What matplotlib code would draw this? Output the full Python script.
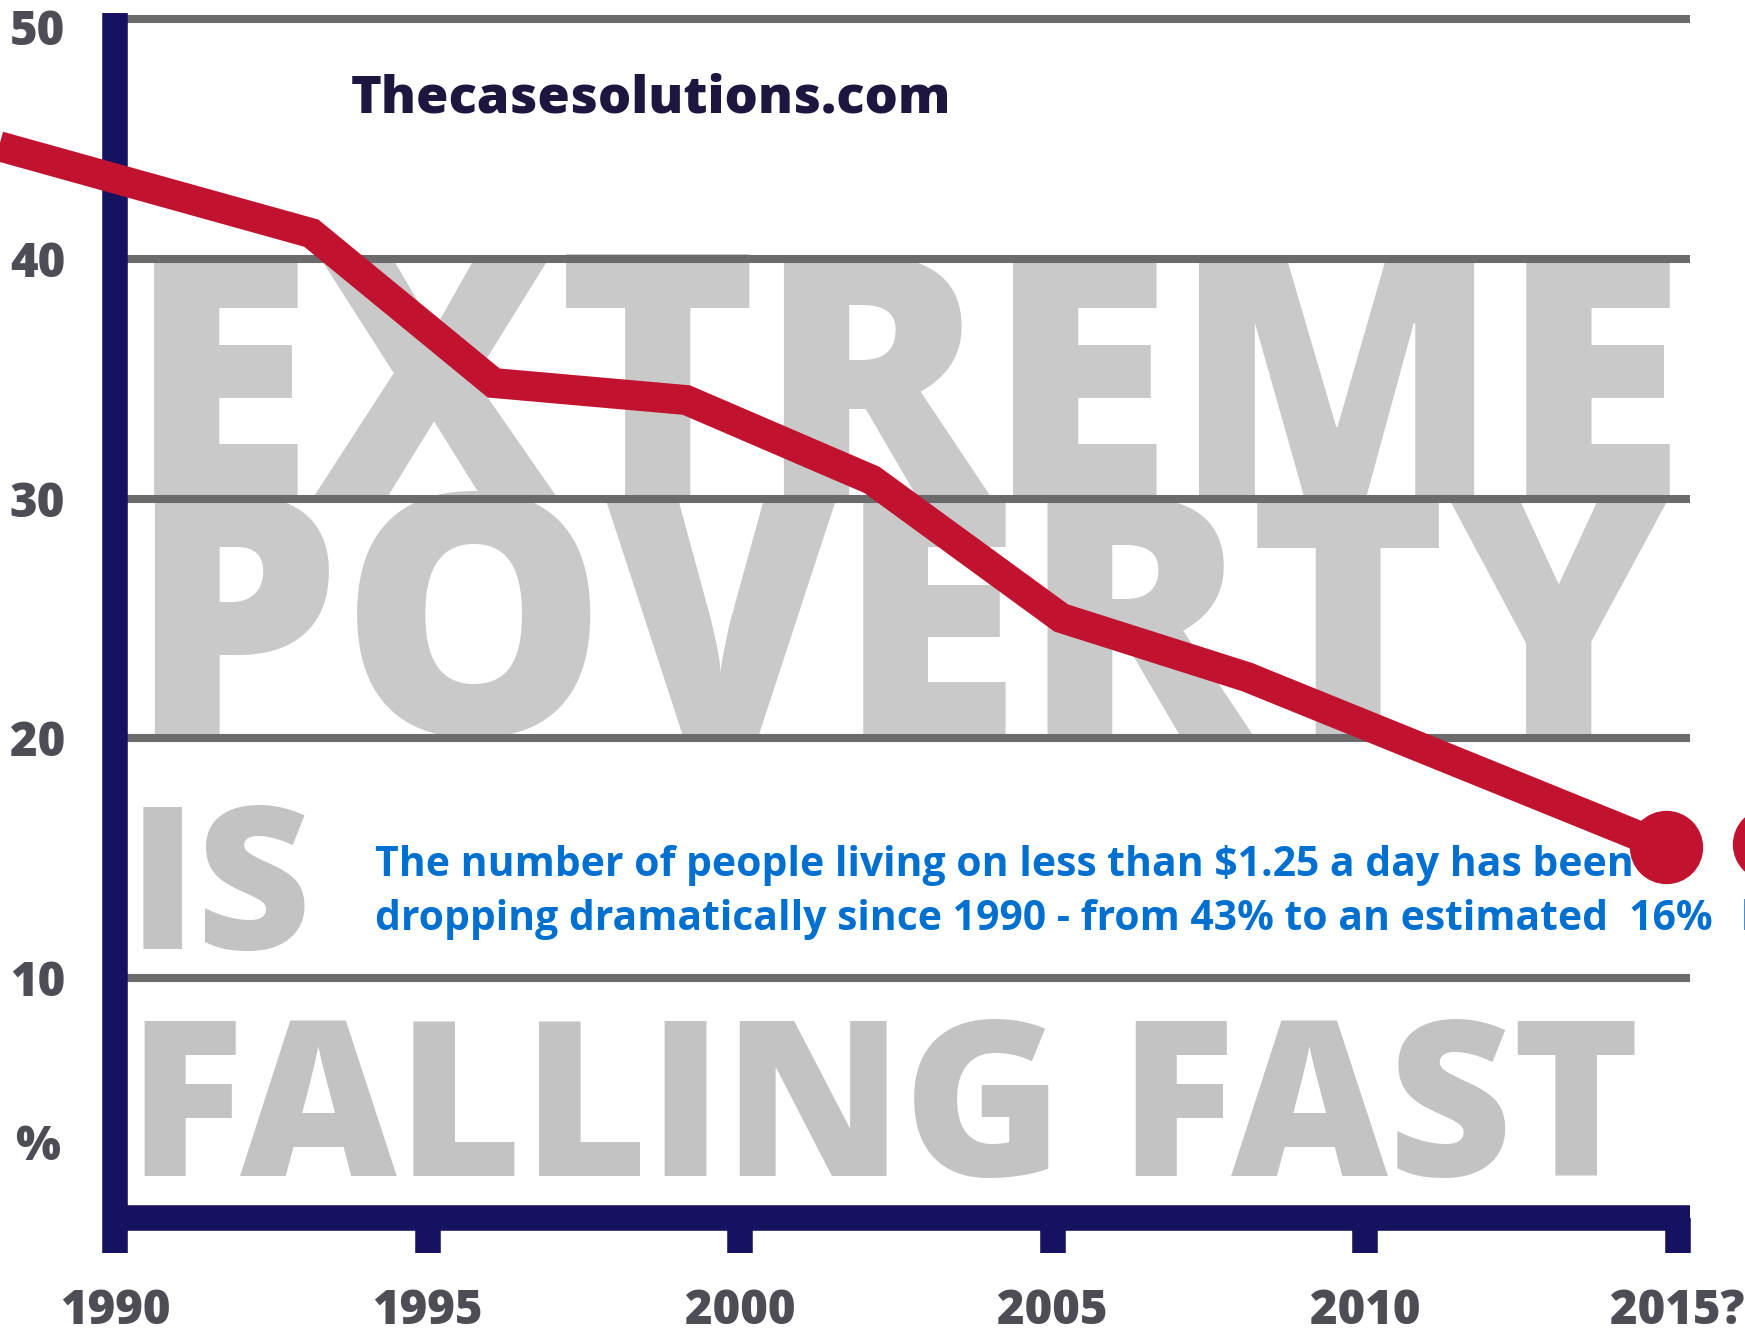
import matplotlib
matplotlib.use('Agg')
import matplotlib.pyplot as plt

# values
years = [1988.0, 1993.14, 1996.06, 1999.14, 2002.11, 2005.14, 2008.11, 2014.82]
poverty_pct = [44.8, 41.07, 34.82, 34.11, 30.78, 25.02, 22.56, 15.47]
next_dot_year = [2016.46]
next_dot_pct = [15.6]

x_ticks = [1990, 1995, 2000, 2005, 2010, 2015]
x_labels = ['1990', '1995', '2000', '2005', '2010', '2015?']
y_ticks = [3.17, 10, 20, 30, 40, 49.65]
y_labels = ['%', '10', '20', '30', '40', '50']
grid_levels = [10, 20, 30, 40, 50]

NAVY = '#15125f'
RED = '#c1132f'
GRID = '#6b6b6b'
LABEL = '#4c4d55'
BIG = '#c9c9c9'
BLUE = '#0070d0'
MARK = '#1f1640'

plt.rcParams['font.family'] = ['Open Sans', 'DejaVu Sans']

W, H = 1745, 1335
fig = plt.figure(figsize=(W / 100, H / 100), dpi=100)
ax = fig.add_axes([115 / W, (H - 1218) / H, (1690 - 115) / W, (1218 - 13) / H])
ax.set_xlim(1990, 2015.2)
ax.set_ylim(0, 50.25)
ax.patch.set_alpha(0)


def px2x(px):
    return 1990 + (px - 115) / 62.5


def px2y(py):
    return (1218 - py) / 23.98


renderer = fig.canvas.get_renderer()


def fit_width(t, target):
    w = t.get_window_extent(renderer).width
    t.set_fontsize(t.get_fontsize() * target / w)


# big background words
big_words = [
    ('EXTREME', 128, 1686, 497, BIG),
    ('POVERTY', 128, 1670, 735, BIG),
    ('IS', 128, 312, 949, '#c4c3c4'),
    ('FALLING FAST', 128, 1640, 1176, '#c4c3c4'),
]
for word, x0, x1, base, col in big_words:
    t = ax.text(px2x(x0), px2y(base), word, fontsize=200, fontweight=800,
                color=col, ha='left', va='baseline', zorder=1, clip_on=False)
    fit_width(t, x1 - x0)

# gridlines
ax.hlines(grid_levels, 1990, 2015.2, colors=GRID, linewidth=5.8, zorder=2)

# watermark
t = ax.text(px2x(351), px2y(113), 'Thecasesolutions.com', fontsize=40,
            fontweight=800, color=MARK, ha='left', va='baseline', zorder=3)
fit_width(t, 950 - 351)

# note text
t1 = ax.text(px2x(375), px2y(876),
             'The number of people living on less than $1.25 a day has been',
             fontsize=24, fontweight='bold', color=BLUE, ha='left', va='baseline', zorder=3)
t2 = ax.text(px2x(375), px2y(930),
             'dropping dramatically since 1990 - from 43% to an estimated  16%',
             fontsize=24, fontweight='bold', color=BLUE, ha='left', va='baseline', zorder=3)
fit_width(t2, 1713 - 375)
t1.set_fontsize(t2.get_fontsize())
ax.text(px2x(1741), px2y(930), 'by 2015', fontsize=t2.get_fontsize(),
        fontweight='bold', color=BLUE, ha='left', va='baseline', zorder=3, clip_on=False)

# the data line
ax.plot(years, poverty_pct, color=RED, linewidth=21.6, solid_joinstyle='miter',
        solid_capstyle='butt', zorder=6, clip_on=False)
ax.plot(years[-1:], poverty_pct[-1:], 'o', color=RED, markersize=51.8, zorder=7, clip_on=False)
ax.plot(next_dot_year, next_dot_pct, 'o', color=RED, markersize=51.8, zorder=7, clip_on=False)

# axes styling
for side in ['top', 'right']:
    ax.spines[side].set_visible(False)
for side in ['left', 'bottom']:
    ax.spines[side].set_linewidth(18.4)
    ax.spines[side].set_color(NAVY)
    ax.spines[side].set_capstyle('butt')

ax.set_xticks(x_ticks)
ax.set_xticklabels(x_labels)
ax.tick_params(axis='x', direction='out', length=25.2, width=18.4, color=NAVY,
               pad=25, labelsize=34, labelcolor=LABEL)
for lbl in ax.get_xticklabels():
    lbl.set_fontweight(800)

ax.set_yticks(y_ticks)
ax.set_yticklabels(y_labels)
ax.tick_params(axis='y', length=0, pad=55.8, labelsize=34, labelcolor=LABEL)
for lbl in ax.get_yticklabels():
    lbl.set_fontweight(800)
    lbl.set_ha('center')

fig.savefig('out.png', dpi=100, facecolor='white')
